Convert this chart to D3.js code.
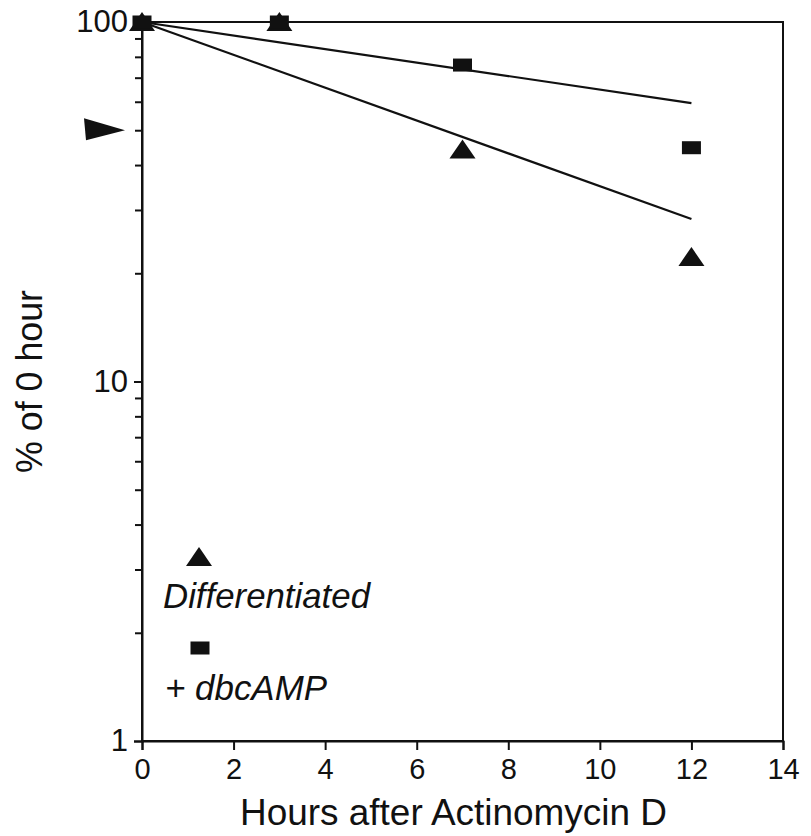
<!DOCTYPE html>
<html>
<head>
<meta charset="utf-8">
<script src="https://cdn.jsdelivr.net/npm/d3@7"></script>
<style>
  body { margin: 0; background: #fff; }
  svg { display: block; }
  text { font-family: "Liberation Sans", Arial, Helvetica, sans-serif; fill: #111; }
</style>
</head>
<body>
<svg id="chart" width="811" height="836"></svg>
<script>
// ---- data ----
const hours = [0, 3, 7, 12];
const differentiated = [100, 100, 44.2, 22.2];   // triangles
const dbcAMP = [100, 100, 75.9, 44.7];           // squares
const fitHours = [0, 12];
const fitDifferentiated = [100, 28.3];
const fitDbcAMP = [100, 59.5];
const xTicks = [0, 2, 4, 6, 8, 10, 12, 14];
const yMajorTicks = [1, 10, 100];
const yMinorTicks = [2, 3, 4, 5, 6, 7, 8, 9, 20, 30, 40, 50, 60, 70, 80, 90];
const arrowValue = 50;
const legendLabels = ["Differentiated", "+ dbcAMP"];

// ---- layout ----
const L = 142, R = 783, T = 22, B = 741;
const svg = d3.select("#chart");
const x = d3.scaleLinear().domain([0, 14]).range([L, R]);
const y = d3.scaleLog().domain([1, 100]).range([B, T]);

const stroke = "#111";
const FF = "Liberation Sans, Arial, sans-serif";

// frame (top & right)
svg.append("rect").attr("x", L).attr("y", T).attr("width", R - L).attr("height", B - T)
  .attr("fill", "none").attr("stroke", stroke).attr("stroke-width", 2);

// x axis
const xAxis = svg.append("g").attr("transform", `translate(0,${B})`)
  .call(d3.axisBottom(x).tickValues(xTicks).tickSize(9).tickPadding(8).tickFormat(d3.format("d")));
xAxis.select(".domain").attr("stroke", stroke).attr("stroke-width", 2);
xAxis.selectAll(".tick line").attr("stroke", stroke).attr("stroke-width", 2);
xAxis.selectAll(".tick text").attr("font-size", 29).attr("fill", "#111").attr("font-family", FF);

// y axis
const yAxis = svg.append("g").attr("transform", `translate(${L},0)`)
  .call(d3.axisLeft(y).tickValues(yMajorTicks).tickSize(8).tickPadding(6).tickFormat(d3.format("d")));
yAxis.select(".domain").attr("stroke", stroke).attr("stroke-width", 2);
yAxis.selectAll(".tick line").attr("stroke", stroke).attr("stroke-width", 2);
yAxis.selectAll(".tick text").attr("font-size", 31).attr("fill", "#111").attr("font-family", FF);
const yMinor = svg.append("g").attr("transform", `translate(${L},0)`)
  .call(d3.axisLeft(y).tickValues(yMinorTicks).tickSize(7).tickFormat(""));
yMinor.select(".domain").remove();
yMinor.selectAll(".tick line").attr("stroke", stroke).attr("stroke-width", 2);

// arrowhead at 50%
const ay = y(arrowValue), ax = L - 17;
svg.append("path")
  .attr("d", `M${ax},${ay} L${ax - 41},${ay - 12} L${ax - 39},${ay + 10} Z`)
  .attr("fill", "#111");

// fit lines
const line = d3.line().x((d, i) => x(fitHours[i])).y(d => y(d));
svg.append("path").datum(fitDbcAMP).attr("d", line)
  .attr("fill", "none").attr("stroke", stroke).attr("stroke-width", 2.2);
svg.append("path").datum(fitDifferentiated).attr("d", line)
  .attr("fill", "none").attr("stroke", stroke).attr("stroke-width", 2.2);

// markers
const triPath = (cx, cy) => `M${cx},${cy - 10} L${cx + 13},${cy + 9} L${cx - 13},${cy + 9} Z`;
svg.append("g").selectAll("path").data(hours).join("path")
  .attr("d", (d, i) => triPath(x(d), y(differentiated[i])))
  .attr("fill", "#111");
svg.append("g").selectAll("rect").data(hours).join("rect")
  .attr("x", d => x(d) - 9.5)
  .attr("y", (d, i) => y(dbcAMP[i]) - 6.5)
  .attr("width", 19).attr("height", 13)
  .attr("fill", "#111");

// legend
svg.append("path").attr("d", triPath(199, 557)).attr("fill", "#111");
svg.append("text").attr("x", 163).attr("y", 608).attr("font-size", 35).attr("font-style", "italic")
  .attr("textLength", 207).attr("lengthAdjust", "spacingAndGlyphs").text(legendLabels[0]);
svg.append("rect").attr("x", 190.5).attr("y", 641.5).attr("width", 19).attr("height", 13).attr("fill", "#111");
svg.append("text").attr("x", 165).attr("y", 700).attr("font-size", 35).attr("font-style", "italic")
  .attr("textLength", 162).attr("lengthAdjust", "spacingAndGlyphs").text(legendLabels[1]);

// axis titles
svg.append("text").attr("x", 240).attr("y", 825).attr("font-size", 36)
  .attr("textLength", 427).attr("lengthAdjust", "spacingAndGlyphs")
  .text("Hours after Actinomycin D");
svg.append("text").attr("transform", "translate(42,473) rotate(-90)").attr("font-size", 36)
  .attr("textLength", 183).attr("lengthAdjust", "spacingAndGlyphs")
  .text("% of 0 hour");
</script>
</body>
</html>
